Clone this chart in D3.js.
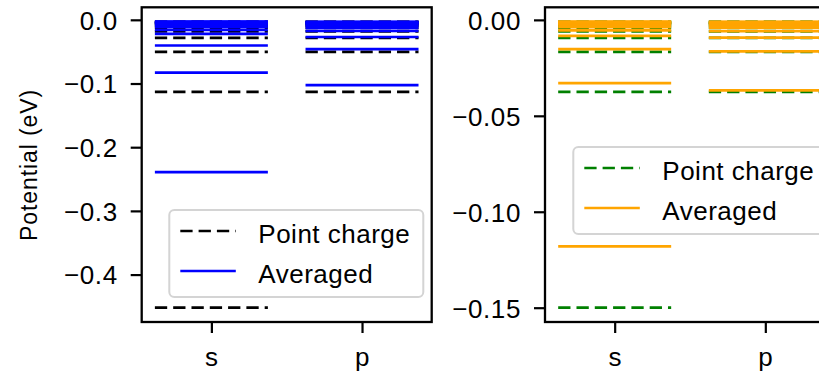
<!DOCTYPE html>
<html>
<head>
<meta charset="utf-8">
<script src="https://cdn.jsdelivr.net/npm/d3@7"></script>
<style>
  body { margin: 0; background: #fff; }
  svg text { font-family: "Liberation Sans", Arial, sans-serif; fill: #000; }
</style>
</head>
<body>
<div id="viz"></div>
<script>
const orbitals = ["s", "p"];

// left panel: levels in eV
const leftPointS = [-0.452, -0.113, -0.0502, -0.0283, -0.0181, -0.0126, -0.0092, -0.0071, -0.0056, -0.0045, -0.0037, -0.0031];
const leftPointP = [-0.113, -0.0502, -0.0283, -0.0181, -0.0126, -0.0092, -0.0071, -0.0056, -0.0045, -0.0037, -0.0031];
const leftAvgS = [-0.239, -0.083, -0.0403, -0.0222, -0.0157, -0.011, -0.0082, -0.0063, -0.005, -0.004, -0.0033, -0.0028];
const leftAvgP = [-0.1025, -0.046, -0.027, -0.0175, -0.0122, -0.009, -0.0069, -0.0055, -0.0045, -0.0037, -0.0031];

// right panel
const rightPointS = [-0.150, -0.0375, -0.0167, -0.0094, -0.006, -0.0042, -0.0031, -0.0023, -0.0019, -0.0015, -0.0012, -0.001];
const rightPointP = [-0.0375, -0.0167, -0.0094, -0.006, -0.0042, -0.0031, -0.0023, -0.0019, -0.0015, -0.0012, -0.001];
const rightAvgS = [-0.118, -0.033, -0.0152, -0.0083, -0.0055, -0.0038, -0.0028, -0.0021, -0.0016, -0.0013, -0.0011, -0.0009];
const rightAvgP = [-0.0367, -0.0164, -0.0092, -0.0059, -0.0041, -0.003, -0.0023, -0.0018, -0.0015, -0.0012, -0.001];

const leftTicks = [0, -0.1, -0.2, -0.3, -0.4];
const rightTicks = [0, -0.05, -0.10, -0.15];
const seriesNames = ["Point charge", "Averaged"];

const width = 819, height = 373;
const fontSize = 26;

const svg = d3.select("#viz").append("svg")
    .attr("width", width)
    .attr("height", height);

function drawPanel(o) {
    const all = o.point.flat().concat(o.avg.flat());
    const lo = d3.min(all), hi = d3.max(all);
    const pad = (hi - lo) * 0.05;

    const x = d3.scaleLinear()
        .domain([-0.4625, orbitals.length - 1 + 0.4625])
        .range([o.left, o.left + 290]);
    const y = d3.scaleLinear()
        .domain([lo - pad, hi + pad])
        .range([322, 7.3]);

    const g = svg.append("g");

    // point charge first, averaged on top
    const sets = [
        { vals: o.point, color: o.pointColor, dash: "12.3,6" },
        { vals: o.avg, color: o.avgColor, dash: null }
    ];
    sets.forEach(set => {
        set.vals.forEach((levels, i) => {
            g.selectAll(null)
                .data(levels)
                .join("line")
                    .attr("x1", x(i - 0.375))
                    .attr("x2", x(i + 0.375))
                    .attr("y1", d => y(d))
                    .attr("y2", d => y(d))
                    .attr("stroke", set.color)
                    .attr("stroke-width", 2.7)
                    .attr("stroke-dasharray", set.dash);
        });
    });

    // frame
    g.append("rect")
        .attr("x", x.range()[0])
        .attr("y", y.range()[1])
        .attr("width", x.range()[1] - x.range()[0])
        .attr("height", y.range()[0] - y.range()[1])
        .attr("fill", "none")
        .attr("stroke", "#000")
        .attr("stroke-width", 2.3);

    const yAxis = g.append("g")
        .attr("transform", `translate(${x.range()[0]},0)`)
        .call(d3.axisLeft(y).tickValues(o.ticks).tickFormat(d3.format(o.fmt))
            .tickSize(11).tickPadding(13));
    const xAxis = g.append("g")
        .attr("transform", `translate(0,${y.range()[0]})`)
        .call(d3.axisBottom(x).tickValues(orbitals.map((d, i) => i))
            .tickFormat(i => orbitals[i]).tickSize(11).tickPadding(15));

    [yAxis, xAxis].forEach(ax => {
        ax.select(".domain").remove();
        ax.selectAll(".tick line").attr("stroke", "#000").attr("stroke-width", 2.2);
        ax.selectAll(".tick text")
            .attr("font-size", fontSize)
            .attr("font-family", "Liberation Sans, Arial, sans-serif")
            .attr("letter-spacing", 0.6)
            .attr("fill", "#000");
    });
    yAxis.selectAll(".tick text").attr("dy", "0.36em");

    // legend
    const lg = g.append("g").attr("transform", `translate(${o.legend[0]},${o.legend[1]})`);
    lg.append("rect")
        .attr("width", 254)
        .attr("height", 87)
        .attr("rx", 5)
        .attr("fill", "#fff")
        .attr("fill-opacity", 0.8)
        .attr("stroke", "#d4d4d4")
        .attr("stroke-width", 2);
    const items = [
        { name: seriesNames[0], color: o.pointColor, dash: "12.3,6" },
        { name: seriesNames[1], color: o.avgColor, dash: null }
    ];
    const row = lg.selectAll(".item")
        .data(items)
        .join("g")
            .attr("class", "item")
            .attr("transform", (d, i) => `translate(0,${21 + i * 40})`);
    row.append("line")
        .attr("x1", 11)
        .attr("x2", 66.5)
        .attr("stroke", d => d.color)
        .attr("stroke-width", 2.7)
        .attr("stroke-dasharray", d => d.dash);
    row.append("text")
        .attr("x", 89)
        .attr("y", 12)
        .attr("font-size", fontSize)
        .attr("letter-spacing", 0.5)
        .text(d => d.name);
}

drawPanel({
    left: 141.7,
    point: [leftPointS, leftPointP],
    avg: [leftAvgS, leftAvgP],
    pointColor: "#000000",
    avgColor: "#0000ff",
    ticks: leftTicks,
    fmt: ".1f",
    legend: [169.3, 210]
});

drawPanel({
    left: 545,
    point: [rightPointS, rightPointP],
    avg: [rightAvgS, rightAvgP],
    pointColor: "#008000",
    avgColor: "#ffa500",
    ticks: rightTicks,
    fmt: ".2f",
    legend: [573.3, 147]
});

svg.append("text")
    .attr("transform", "translate(37,165) rotate(-90)")
    .attr("text-anchor", "middle")
    .attr("font-size", 23)
    .attr("letter-spacing", 0.9)
    .text("Potential (eV)");
</script>
</body>
</html>
